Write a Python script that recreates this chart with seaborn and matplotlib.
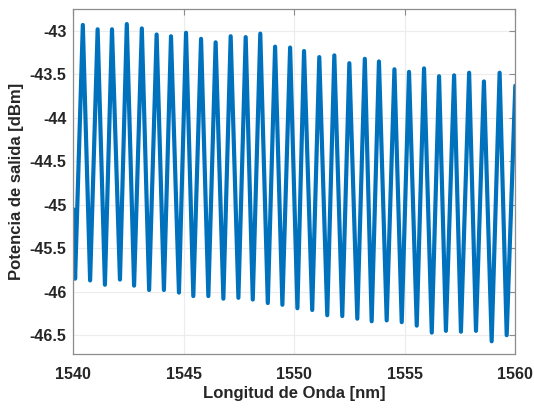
import numpy as np
import pandas as pd
import seaborn as sns
import matplotlib.pyplot as plt

# valores (nm, dBm)
edge_nm = [1540.0]
edge_dbm = [-45.05]

valle_nm = [1540.08, 1540.76, 1541.43, 1542.11, 1542.75, 1543.43, 1544.10, 1544.78,
            1545.43, 1546.11, 1546.79, 1547.47, 1548.12, 1548.80, 1549.46, 1550.14,
            1550.81, 1551.49, 1552.17, 1552.85, 1553.50, 1554.18, 1554.86, 1555.54,
            1556.22, 1556.86, 1557.54, 1558.22, 1558.93, 1559.61]
valle_dbm = [-45.85, -45.87, -45.92, -45.86, -45.93, -45.98, -45.98, -46.01,
             -46.05, -46.05, -46.08, -46.07, -46.09, -46.13, -46.15, -46.19,
             -46.21, -46.27, -46.28, -46.31, -46.34, -46.33, -46.35, -46.39,
             -46.47, -46.45, -46.46, -46.45, -46.57, -46.50]

pico_nm = [1540.43, 1541.10, 1541.75, 1542.42, 1543.10, 1543.77, 1544.42, 1545.10,
           1545.78, 1546.44, 1547.12, 1547.80, 1548.46, 1549.13, 1549.81, 1550.44,
           1551.13, 1551.81, 1552.49, 1553.19, 1553.83, 1554.53, 1555.19, 1555.87,
           1556.55, 1557.23, 1557.91, 1558.58, 1559.29, 1560.0]
pico_dbm = [-42.93, -42.98, -42.98, -42.92, -42.97, -43.04, -43.06, -43.02,
            -43.09, -43.13, -43.06, -43.07, -43.03, -43.18, -43.19, -43.23,
            -43.30, -43.28, -43.37, -43.32, -43.35, -43.44, -43.47, -43.43,
            -43.52, -43.51, -43.48, -43.58, -43.48, -43.63]

xticks = [1540, 1545, 1550, 1555, 1560]
yticks = [-43, -43.5, -44, -44.5, -45, -45.5, -46, -46.5]

df = pd.DataFrame({
    'nm': edge_nm + valle_nm + pico_nm,
    'dbm': edge_dbm + valle_dbm + pico_dbm,
}).sort_values('nm')

sns.set_style('white')
plt.rcParams['font.family'] = ['Liberation Sans', 'DejaVu Sans']
plt.rcParams['font.weight'] = 'bold'

fig = plt.figure(figsize=(5.34, 4.09), dpi=100)
ax = fig.add_axes([0.1373, 0.1337, 0.8277, 0.8436])

sns.lineplot(data=df, x='nm', y='dbm', ax=ax, color='#0072BD', linewidth=3.0,
             sort=False, estimator=None)

ax.set_xlim(1540, 1560)
ax.set_ylim(-46.72, -42.75)
ax.set_xticks(xticks)
ax.set_xticklabels([str(t) for t in xticks])
ax.set_yticks(yticks)
ax.set_yticklabels([f'{t:g}' for t in yticks])
ax.grid(True, color='#ececec', linewidth=0.8)
ax.set_axisbelow(True)

for s in ax.spines.values():
    s.set_color('#8c8c8c')
    s.set_linewidth(0.9)

ax.tick_params(axis='both', direction='in', length=4, width=0.8, color='#8c8c8c',
               top=True, right=True, labelsize=11.5, labelcolor='#262626')
ax.tick_params(axis='x', pad=9)
ax.tick_params(axis='y', pad=5)

ax.set_xlabel('Longitud de Onda [nm]', fontsize=12, fontweight='bold',
              color='#262626', labelpad=3)
ax.set_ylabel('Potencia de salida [dBm]', fontsize=12, fontweight='bold',
              color='#262626', labelpad=4)

fig.savefig('out.png', dpi=100)
